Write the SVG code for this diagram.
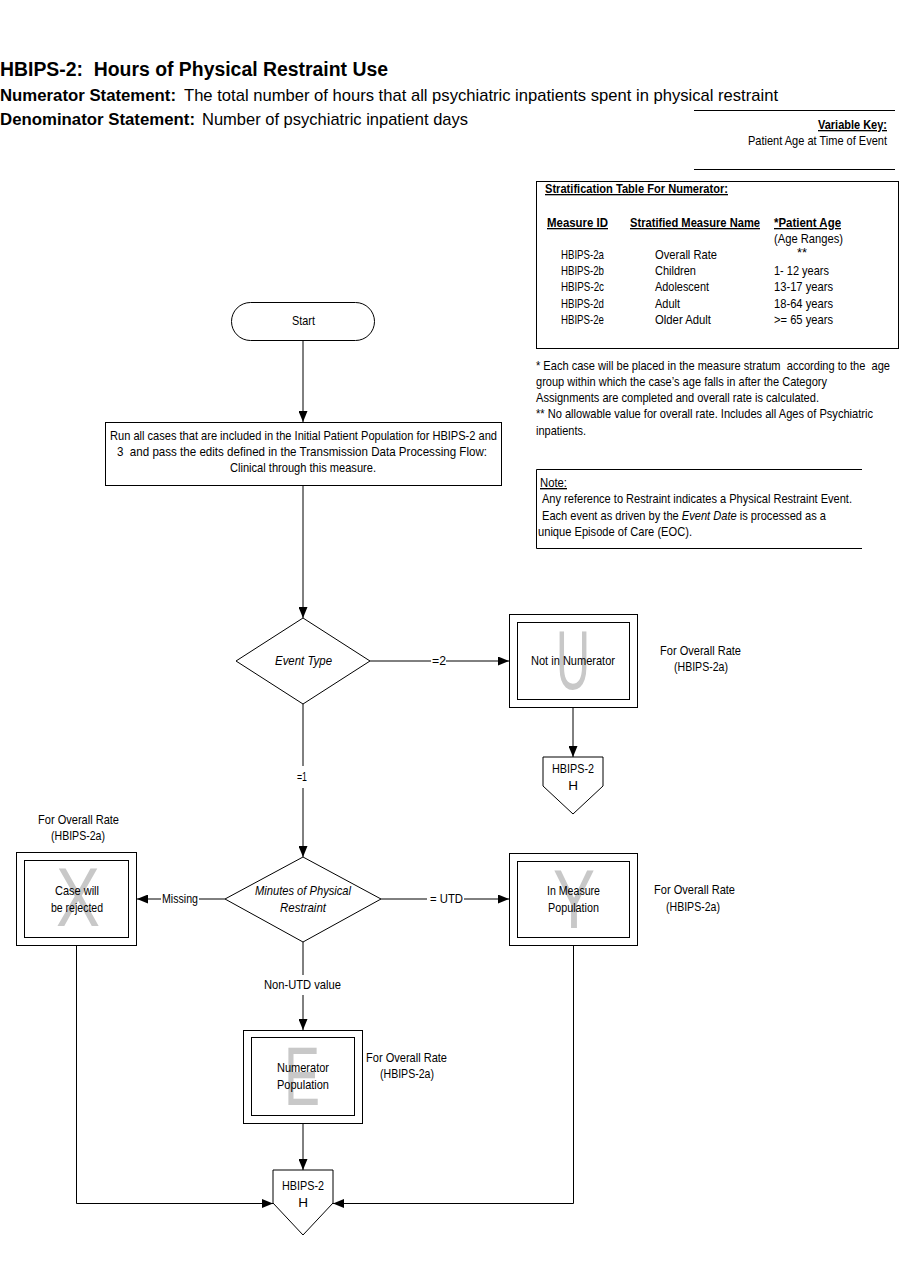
<svg xmlns="http://www.w3.org/2000/svg" width="900" height="1286" viewBox="0 0 900 1286">
<style>
text{font-family:"Liberation Sans",Arial,sans-serif;font-size:13.5px;fill:#000}
.b{font-weight:bold}
.u{text-decoration:underline}
.c{text-anchor:middle}
.i{font-style:italic}
.s{font-size:13px}
.ln{stroke:#000;stroke-width:1;fill:none}
.box{fill:#fff;stroke:#000;stroke-width:1}
.big{font-size:84px;fill:#c8c8c8;text-anchor:middle}
.h1{font-size:20px;font-weight:bold}
.h2{font-size:17px}
</style>
<defs>
<marker id="ah" markerWidth="11" markerHeight="9" refX="11" refY="4.5" orient="auto" markerUnits="userSpaceOnUse"><path d="M0,0 L11,4.5 L0,9 z" fill="#000"/></marker>
</defs>
<rect width="900" height="1286" fill="#fff"/>
<g id="header">
<text class="h1" x="0" y="76" textLength="388" lengthAdjust="spacingAndGlyphs">HBIPS-2:&#160; Hours of Physical Restraint Use</text>
<text class="h2 b" x="0" y="101" textLength="176" lengthAdjust="spacingAndGlyphs">Numerator Statement:</text>
<text class="h2" x="184" y="101" textLength="594" lengthAdjust="spacingAndGlyphs">The total number of hours that all psychiatric inpatients spent in physical restraint</text>
<text class="h2 b" x="0" y="125" textLength="195" lengthAdjust="spacingAndGlyphs">Denominator Statement:</text>
<text class="h2" x="202" y="125" textLength="266" lengthAdjust="spacingAndGlyphs">Number of psychiatric inpatient days</text>
</g>
<g id="variable-key">
<line class="ln" x1="694" y1="110.5" x2="895" y2="110.5"/>
<text class="b u s" x="818" y="129" textLength="69" lengthAdjust="spacingAndGlyphs">Variable Key:</text>
<text class="s" x="748" y="145" textLength="139" lengthAdjust="spacingAndGlyphs">Patient Age at Time of Event</text>
<line class="ln" x1="694" y1="169.5" x2="895" y2="169.5"/>
</g>
<g id="stratification-table">
<rect class="box" x="536.5" y="181.5" width="362" height="167"/>
<text class="b u s" x="545" y="193" textLength="183" lengthAdjust="spacingAndGlyphs">Stratification Table For Numerator:</text>
<text class="b u s" x="547" y="227" textLength="61" lengthAdjust="spacingAndGlyphs">Measure ID</text>
<text class="b u s" x="630" y="227" textLength="130" lengthAdjust="spacingAndGlyphs">Stratified Measure Name</text>
<text class="b u s" x="774" y="227" textLength="67" lengthAdjust="spacingAndGlyphs">*Patient Age</text>
<text x="774" y="243" textLength="69" lengthAdjust="spacingAndGlyphs">(Age Ranges)</text>
<text x="561" y="259" textLength="43" lengthAdjust="spacingAndGlyphs">HBIPS-2a</text><text x="655" y="259" textLength="62" lengthAdjust="spacingAndGlyphs">Overall Rate</text><text x="797" y="257" textLength="10" lengthAdjust="spacingAndGlyphs">**</text>
<text x="561" y="275" textLength="43" lengthAdjust="spacingAndGlyphs">HBIPS-2b</text><text x="655" y="275" textLength="41" lengthAdjust="spacingAndGlyphs">Children</text><text x="774" y="275" textLength="55" lengthAdjust="spacingAndGlyphs">1- 12 years</text>
<text x="561" y="291" textLength="43" lengthAdjust="spacingAndGlyphs">HBIPS-2c</text><text x="655" y="291" textLength="54" lengthAdjust="spacingAndGlyphs">Adolescent</text><text x="774" y="291" textLength="59" lengthAdjust="spacingAndGlyphs">13-17 years</text>
<text x="561" y="308" textLength="43" lengthAdjust="spacingAndGlyphs">HBIPS-2d</text><text x="655" y="308" textLength="25" lengthAdjust="spacingAndGlyphs">Adult</text><text x="774" y="308" textLength="59" lengthAdjust="spacingAndGlyphs">18-64 years</text>
<text x="561" y="324" textLength="43" lengthAdjust="spacingAndGlyphs">HBIPS-2e</text><text x="655" y="324" textLength="56" lengthAdjust="spacingAndGlyphs">Older Adult</text><text x="774" y="324" textLength="59" lengthAdjust="spacingAndGlyphs">&gt;= 65 years</text>
</g>
<g id="footnotes">
<text x="536" y="370" textLength="354" lengthAdjust="spacingAndGlyphs">* Each case will be placed in the measure stratum&#160; according to the&#160; age</text>
<text x="536" y="386" textLength="291" lengthAdjust="spacingAndGlyphs">group within which the case’s age falls in after the Category</text>
<text x="536" y="402" textLength="283" lengthAdjust="spacingAndGlyphs">Assignments are completed and overall rate is calculated.</text>
<text x="536" y="418" textLength="337" lengthAdjust="spacingAndGlyphs">** No allowable value for overall rate. Includes all Ages of Psychiatric</text>
<text x="536" y="435" textLength="50" lengthAdjust="spacingAndGlyphs">inpatients.</text>
</g>
<g id="note">
<polyline class="ln" points="862,469.5 536.5,469.5 536.5,548.5 862,548.5"/>
<text class="u" x="540" y="487" textLength="27" lengthAdjust="spacingAndGlyphs">Note:</text>
<text x="542" y="503" textLength="310" lengthAdjust="spacingAndGlyphs">Any reference to Restraint indicates a Physical Restraint Event.</text>
<text x="542" y="520" textLength="284" lengthAdjust="spacingAndGlyphs">Each event as driven by the <tspan class="i">Event Date</tspan> is processed as a</text>
<text x="538" y="536" textLength="154" lengthAdjust="spacingAndGlyphs">unique Episode of Care (EOC).</text>
</g>
<g id="connectors">
<line class="ln" x1="303" y1="341" x2="303" y2="422" marker-end="url(#ah)"/>
<line class="ln" x1="303" y1="486" x2="303" y2="618" marker-end="url(#ah)"/>
<line class="ln" x1="370" y1="661" x2="431" y2="661"/>
<line class="ln" x1="446" y1="661" x2="509" y2="661" marker-end="url(#ah)"/>
<text x="432" y="665" textLength="14" lengthAdjust="spacingAndGlyphs">=2</text>
<line class="ln" x1="573" y1="708" x2="573" y2="757" marker-end="url(#ah)"/>
<line class="ln" x1="303" y1="704" x2="303" y2="766"/>
<line class="ln" x1="303" y1="788" x2="303" y2="857" marker-end="url(#ah)"/>
<text x="297" y="781" textLength="10" lengthAdjust="spacingAndGlyphs">=1</text>
<line class="ln" x1="225" y1="899" x2="199" y2="899"/>
<line class="ln" x1="161" y1="899" x2="137" y2="899" marker-end="url(#ah)"/>
<text x="162" y="903" textLength="36" lengthAdjust="spacingAndGlyphs">Missing</text>
<line class="ln" x1="381" y1="899" x2="427" y2="899"/>
<line class="ln" x1="464" y1="899" x2="509" y2="899" marker-end="url(#ah)"/>
<text x="430" y="903" textLength="33" lengthAdjust="spacingAndGlyphs">= UTD</text>
<line class="ln" x1="303" y1="942" x2="303" y2="975"/>
<line class="ln" x1="303" y1="995" x2="303" y2="1030" marker-end="url(#ah)"/>
<text x="264" y="989" textLength="77" lengthAdjust="spacingAndGlyphs">Non-UTD value</text>
<line class="ln" x1="303" y1="1124" x2="303" y2="1170" marker-end="url(#ah)"/>
<polyline class="ln" points="76.5,946 76.5,1203.5 273,1203.5" marker-end="url(#ah)"/>
<polyline class="ln" points="573.5,946 573.5,1203.5 333,1203.5" marker-end="url(#ah)"/>
</g>
<g id="start">
<rect class="box" x="231.5" y="302.5" width="143" height="38" rx="19" ry="19"/>
<text x="292" y="325" textLength="23" lengthAdjust="spacingAndGlyphs">Start</text>
</g>
<g id="initial-population">
<rect class="box" x="105.5" y="422.5" width="396" height="63"/>
<text x="110" y="440" textLength="387" lengthAdjust="spacingAndGlyphs">Run all cases that are included in the Initial Patient Population for HBIPS-2 and</text>
<text x="117" y="456" textLength="370" lengthAdjust="spacingAndGlyphs">3&#160; and pass the edits defined in the Transmission Data Processing Flow:</text>
<text x="230" y="472" textLength="146" lengthAdjust="spacingAndGlyphs">Clinical through this measure.</text>
</g>
<g id="event-type">
<polygon class="box" points="303,618 370,661 303,704 236,661"/>
<text class="i" x="275" y="665" textLength="57" lengthAdjust="spacingAndGlyphs">Event Type</text>
</g>
<g id="not-in-numerator">
<rect class="box" x="509.5" y="614.5" width="128" height="93"/>
<rect class="box" x="517.5" y="622.5" width="112" height="77"/>
<text class="big" x="573" y="689" textLength="34" lengthAdjust="spacingAndGlyphs">U</text>
<text x="531" y="665" textLength="84" lengthAdjust="spacingAndGlyphs">Not in Numerator</text>
<text x="660" y="655" textLength="81" lengthAdjust="spacingAndGlyphs">For Overall Rate</text>
<text x="674" y="671" textLength="54" lengthAdjust="spacingAndGlyphs">(HBIPS-2a)</text>
</g>
<g id="hbips2-h-top">
<polygon class="box" points="543,757 603,757 603,786 573,814 543,786"/>
<text x="552" y="773" textLength="42" lengthAdjust="spacingAndGlyphs">HBIPS-2</text>
<text class="c" x="573" y="790">H</text>
</g>
<g id="minutes-restraint">
<polygon class="box" points="303,857 381,899 303,942 225,899"/>
<text class="i" x="255" y="895" textLength="96" lengthAdjust="spacingAndGlyphs">Minutes of Physical</text>
<text class="i" x="280" y="912" textLength="46" lengthAdjust="spacingAndGlyphs">Restraint</text>
</g>
<g id="case-rejected">
<rect class="box" x="16.5" y="852.5" width="120" height="93"/>
<rect class="box" x="24.5" y="860.5" width="104" height="77"/>
<text class="big" x="78" y="926" textLength="44" lengthAdjust="spacingAndGlyphs">X</text>
<text x="55" y="895" textLength="44" lengthAdjust="spacingAndGlyphs">Case will</text>
<text x="51" y="912" textLength="52" lengthAdjust="spacingAndGlyphs">be rejected</text>
<text x="38" y="824" textLength="81" lengthAdjust="spacingAndGlyphs">For Overall Rate</text>
<text x="51" y="840" textLength="54" lengthAdjust="spacingAndGlyphs">(HBIPS-2a)</text>
</g>
<g id="in-measure-population">
<rect class="box" x="509.5" y="853.5" width="128" height="92"/>
<rect class="box" x="517.5" y="861.5" width="112" height="76"/>
<text class="big" x="574" y="928" textLength="42" lengthAdjust="spacingAndGlyphs">Y</text>
<text x="547" y="895" textLength="53" lengthAdjust="spacingAndGlyphs">In Measure</text>
<text x="548" y="912" textLength="51" lengthAdjust="spacingAndGlyphs">Population</text>
<text x="654" y="894" textLength="81" lengthAdjust="spacingAndGlyphs">For Overall Rate</text>
<text x="666" y="911" textLength="54" lengthAdjust="spacingAndGlyphs">(HBIPS-2a)</text>
</g>
<g id="numerator-population">
<rect class="box" x="243.5" y="1030.5" width="119" height="93"/>
<rect class="box" x="251.5" y="1037.5" width="103" height="78"/>
<text class="big" x="302" y="1105" textLength="36" lengthAdjust="spacingAndGlyphs">E</text>
<text x="277" y="1072" textLength="52" lengthAdjust="spacingAndGlyphs">Numerator</text>
<text x="277" y="1089" textLength="52" lengthAdjust="spacingAndGlyphs">Population</text>
<text x="366" y="1062" textLength="81" lengthAdjust="spacingAndGlyphs">For Overall Rate</text>
<text x="380" y="1078" textLength="54" lengthAdjust="spacingAndGlyphs">(HBIPS-2a)</text>
</g>
<g id="hbips2-h-bottom">
<polygon class="box" points="273,1170 333,1170 333,1203 303,1235 273,1203"/>
<text x="282" y="1190" textLength="42" lengthAdjust="spacingAndGlyphs">HBIPS-2</text>
<text class="c" x="303" y="1207">H</text>
</g>
</svg>
